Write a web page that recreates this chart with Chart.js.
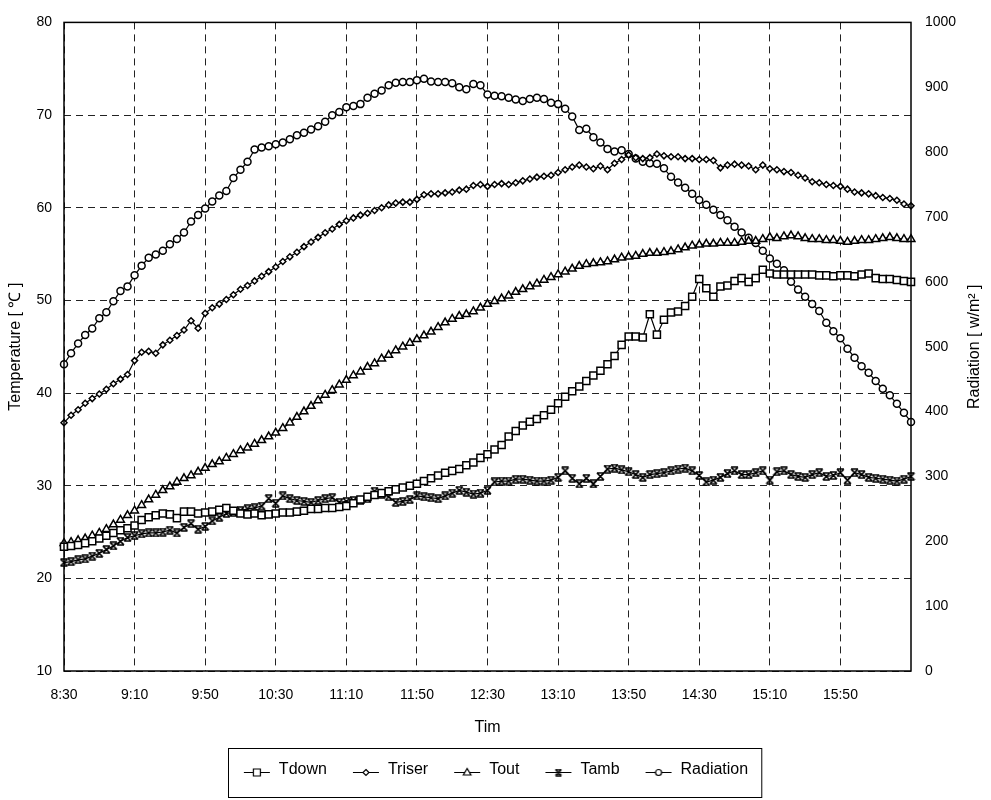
<!DOCTYPE html>
<html>
<head>
<meta charset="utf-8">
<title>Temperature and Radiation</title>
<script src="https://cdn.jsdelivr.net/npm/chart.js@4.4.0/dist/chart.umd.min.js"></script>
<style>
  html, body { margin: 0; padding: 0; background: #fff; }
  #chart { display: block; }
</style>
</head>
<body>
<canvas id="chart" width="991" height="800"></canvas>
<script>
// Samples every 4 minutes from 8:30 to 16:30
const sampleStep = 4;
const xTickLabels = ['8:30', '9:10', '9:50', '10:30', '11:10', '11:50', '12:30', '13:10', '13:50', '14:30', '15:10', '15:50'];

const tdown = [
    23.4, 23.5, 23.6, 23.8, 24.0, 24.3, 24.6, 24.9, 25.2, 25.4,
    25.7, 26.3, 26.6, 26.8, 27.0, 26.9, 26.5, 27.2, 27.2, 27.0,
    27.1, 27.2, 27.4, 27.6, 27.3, 27.0, 26.9, 27.0, 26.8, 26.9,
    27.0, 27.1, 27.1, 27.2, 27.3, 27.5, 27.5, 27.6, 27.6, 27.7,
    27.8, 28.1, 28.5, 28.8, 29.0, 29.2, 29.4, 29.6, 29.8, 30.0,
    30.2, 30.5, 30.8, 31.1, 31.4, 31.6, 31.8, 32.2, 32.5, 33.0,
    33.4, 33.9, 34.4, 35.3, 35.9, 36.5, 36.9, 37.2, 37.6, 38.2,
    38.9, 39.6, 40.2, 40.7, 41.3, 41.9, 42.4, 43.1, 44.0, 45.2,
    46.1, 46.1, 46.0, 48.5, 46.3, 47.9, 48.7, 48.8, 49.4, 50.4,
    52.3, 51.3, 50.4, 51.5, 51.6, 52.1, 52.4, 52.0, 52.4, 53.3,
    52.9, 52.8, 52.8, 52.8, 52.8, 52.8, 52.8, 52.7, 52.7, 52.6,
    52.7, 52.7, 52.6, 52.8, 52.9, 52.4, 52.3, 52.3, 52.2, 52.1,
    52.0
];

const triser = [
    36.8, 37.6, 38.2, 38.9, 39.4, 39.9, 40.4, 41.0, 41.5, 42.0,
    43.5, 44.4, 44.5, 44.3, 45.2, 45.7, 46.2, 46.8, 47.8, 47.0,
    48.6, 49.2, 49.6, 50.1, 50.6, 51.2, 51.6, 52.1, 52.6, 53.1,
    53.6, 54.2, 54.7, 55.2, 55.8, 56.3, 56.8, 57.3, 57.7, 58.2,
    58.6, 58.9, 59.2, 59.4, 59.7, 60.0, 60.3, 60.5, 60.6, 60.6,
    60.9, 61.4, 61.5, 61.5, 61.6, 61.7, 61.9, 62.0, 62.4, 62.5,
    62.3, 62.5, 62.6, 62.5, 62.7, 62.9, 63.1, 63.3, 63.4, 63.5,
    63.8, 64.1, 64.4, 64.6, 64.4, 64.2, 64.5, 64.1, 64.8, 65.2,
    65.7, 65.4, 65.3, 65.4, 65.8, 65.6, 65.5, 65.5, 65.3, 65.3,
    65.2, 65.2, 65.1, 64.3, 64.6, 64.7, 64.6, 64.5, 64.1, 64.6,
    64.2, 64.1, 63.9, 63.8, 63.5, 63.2, 62.8, 62.7, 62.5, 62.4,
    62.3, 62.0, 61.7, 61.6, 61.5, 61.3, 61.1, 61.0, 60.8, 60.4,
    60.2
];

const tout = [
    23.8, 23.9, 24.1, 24.3, 24.6, 24.9, 25.3, 25.8, 26.3, 26.8,
    27.3, 27.9, 28.5, 29.0, 29.5, 29.9, 30.4, 30.8, 31.1, 31.5,
    31.9, 32.3, 32.6, 33.0, 33.4, 33.8, 34.1, 34.5, 34.9, 35.3,
    35.7, 36.2, 36.8, 37.4, 38.0, 38.6, 39.2, 39.8, 40.3, 40.9,
    41.4, 41.9, 42.3, 42.8, 43.2, 43.7, 44.1, 44.6, 45.0, 45.4,
    45.8, 46.2, 46.6, 47.1, 47.6, 48.0, 48.3, 48.5, 48.8, 49.2,
    49.6, 49.9, 50.2, 50.5, 50.9, 51.2, 51.5, 51.8, 52.2, 52.5,
    52.8, 53.1, 53.4, 53.7, 53.9, 54.0, 54.1, 54.2, 54.4, 54.6,
    54.7, 54.8, 55.0, 55.1, 55.1, 55.2, 55.3, 55.5, 55.7, 55.9,
    56.0, 56.1, 56.1, 56.2, 56.2, 56.2, 56.3, 56.4, 56.4, 56.6,
    56.8, 56.7, 56.9, 57.0, 56.9, 56.7, 56.6, 56.6, 56.5, 56.5,
    56.4, 56.3, 56.4, 56.5, 56.5, 56.6, 56.7, 56.8, 56.7, 56.6,
    56.6
];

const tamb = [
    21.7, 21.8, 22.0, 22.1, 22.4, 22.7, 23.1, 23.5, 24.0, 24.4,
    24.6, 24.8, 24.9, 24.9, 25.0, 25.2, 24.9, 25.5, 25.9, 25.3,
    25.6, 26.2, 26.6, 27.0, 27.1, 27.3, 27.5, 27.6, 27.8, 28.6,
    28.1, 28.9, 28.6, 28.4, 28.3, 28.2, 28.4, 28.6, 28.7, 28.2,
    28.3, 28.4, 28.4, 28.6, 29.4, 29.1, 28.8, 28.2, 28.3, 28.5,
    28.9, 28.8, 28.7, 28.6, 28.9, 29.2, 29.5, 29.3, 29.1, 29.2,
    29.5, 30.4, 30.5, 30.5, 30.7, 30.7, 30.6, 30.5, 30.5, 30.6,
    30.9, 31.6, 30.8, 30.2, 30.8, 30.2, 31.0, 31.8, 31.9, 31.7,
    31.5, 31.2, 30.9, 31.2, 31.3, 31.4, 31.6, 31.8, 31.9, 31.6,
    31.1, 30.4, 30.6, 30.9, 31.3, 31.6, 31.2, 31.2, 31.4, 31.6,
    30.6, 31.5, 31.6, 31.2, 31.0, 30.9, 31.2, 31.4, 31.0, 31.1,
    31.4, 30.6, 31.4, 31.2, 30.9, 30.8, 30.7, 30.6, 30.5, 30.7,
    31.0
];

const radiation = [
    473, 490, 505, 518, 528, 544, 553, 570, 586, 593,
    610, 625, 637, 642, 648, 658, 666, 676, 693, 703,
    713, 724, 733, 740, 760, 773, 785, 804, 807, 809,
    812, 815, 820, 826, 830, 835, 840, 847, 857, 862,
    869, 871, 874, 884, 890, 895, 903, 907, 908, 908,
    911, 913, 909, 908, 908, 906, 900, 897, 905, 903,
    889, 887, 886, 884, 881, 879, 882, 884, 882, 876,
    874, 867, 855, 834, 836, 823, 815, 805, 801, 803,
    797, 790, 785, 783, 782, 775, 762, 753, 745, 736,
    726, 719, 711, 703, 695, 685, 676, 668, 660, 648,
    636, 628, 618, 600, 588, 577, 566, 555, 537, 524,
    513, 497, 483, 470, 460, 447, 435, 425, 412, 398,
    384
];

const fontFamily = '"Liberation Sans", Arial, Helvetica, sans-serif';
const rightTitle = 'Radiation [ w/m² ]';

// hourglass-like marker used for Tamb
function makeHourglass(size) {
    const c = document.createElement('canvas');
    c.width = size;
    c.height = size;
    const g = c.getContext('2d');
    g.strokeStyle = '#000';
    g.lineWidth = 1.6;
    g.beginPath();
    g.moveTo(1, 1); g.lineTo(size - 1, size - 1);
    g.moveTo(size - 1, 1); g.lineTo(1, size - 1);
    g.moveTo(1, 1); g.lineTo(size - 1, 1);
    g.moveTo(1, size - 1); g.lineTo(size - 1, size - 1);
    g.stroke();
    return c;
}
const hourglass = makeHourglass(9);

// legend icon: short line with the marker in the middle
function makeLegendIcon(kind) {
    const c = document.createElement('canvas');
    c.width = 28;
    c.height = 14;
    const g = c.getContext('2d');
    g.strokeStyle = '#000';
    g.fillStyle = '#fff';
    g.lineWidth = 1;
    g.beginPath();
    g.moveTo(1, 9.5); g.lineTo(27, 9.5);
    g.stroke();
    const cx = 14, cy = 9.5;
    g.lineWidth = 1.2;
    g.beginPath();
    if (kind === 'rect') {
        g.rect(cx - 3.5, cy - 3.5, 7, 7);
    } else if (kind === 'rectRot') {
        g.moveTo(cx, cy - 3); g.lineTo(cx + 3, cy); g.lineTo(cx, cy + 3); g.lineTo(cx - 3, cy); g.closePath();
    } else if (kind === 'triangle') {
        g.moveTo(cx, cy - 4); g.lineTo(cx + 3.8, cy + 2.5); g.lineTo(cx - 3.8, cy + 2.5); g.closePath();
    } else if (kind === 'circle') {
        g.arc(cx, cy, 3, 0, Math.PI * 2);
    }
    if (kind === 'hourglass') {
        g.drawImage(makeHourglass(8), cx - 4, cy - 4);
    } else {
        g.fill();
        g.stroke();
    }
    return c;
}

function toPoints(values) {
    return values.map((v, i) => ({ x: i * sampleStep, y: v }));
}

function series(label, values, style, radius, axis, legendKind) {
    return {
        label: label,
        data: toPoints(values),
        yAxisID: axis,
        borderColor: '#000',
        borderWidth: 1.2,
        pointStyle: style,
        pointRadius: radius,
        pointBorderWidth: 1.5,
        pointBorderColor: '#000',
        pointBackgroundColor: '#fff',
        tension: 0,
        clip: 6,
        legendIcon: makeLegendIcon(legendKind)
    };
}

const datasets = [
    series('Tdown', tdown, 'rect', 5, 'y', 'rect'),
    series('Triser', triser, 'rectRot', 3, 'y', 'rectRot'),
    series('Tout', tout, 'triangle', 4.5, 'y', 'triangle'),
    series('Tamb', tamb, hourglass, 4, 'y', 'hourglass'),
    series('Radiation', radiation, 'circle', 3.5, 'y1', 'circle')
];

// frame, right-hand title and legend box
const decorations = {
    id: 'decorations',
    afterDraw(chart) {
        const ctx = chart.ctx;
        const a = chart.chartArea;
        ctx.save();
        ctx.strokeStyle = '#000';
        ctx.lineWidth = 1.5;
        ctx.strokeRect(a.left, a.top, a.right - a.left, a.bottom - a.top);

        ctx.fillStyle = '#000';
        ctx.font = '16px ' + fontFamily;
        ctx.textAlign = 'center';
        ctx.textBaseline = 'middle';
        ctx.save();
        ctx.translate(975, (a.top + a.bottom) / 2);
        ctx.rotate(-Math.PI / 2);
        ctx.fillText(rightTitle, 0, 0);
        ctx.restore();

        const boxes = chart.legend.legendHitBoxes;
        if (boxes && boxes.length) {
            const minX = Math.min(...boxes.map(b => b.left));
            const maxX = Math.max(...boxes.map(b => b.left + b.width));
            const top = boxes[0].top;
            ctx.lineWidth = 1;
            ctx.strokeRect(Math.round(minX - 15) + 0.5, Math.round(top - 14) + 0.5, maxX - minX + 28, 49);
        }
        ctx.restore();
    }
};

new Chart(document.getElementById('chart'), {
    type: 'line',
    data: { datasets: datasets },
    plugins: [decorations],
    options: {
        responsive: false,
        animation: false,
        devicePixelRatio: 1,
        layout: { padding: { top: 20, left: 0, right: 0, bottom: 12 } },
        plugins: {
            tooltip: { enabled: false },
            legend: {
                position: 'bottom',
                labels: {
                    usePointStyle: true,
                    pointStyleWidth: 28,
                    padding: 25,
                    color: '#000',
                    font: { family: fontFamily, size: 16 },
                    generateLabels(chart) {
                        return chart.data.datasets.map((ds, i) => ({
                            text: ds.label,
                            pointStyle: ds.legendIcon,
                            fillStyle: '#fff',
                            strokeStyle: '#000',
                            lineWidth: 0,
                            hidden: false,
                            datasetIndex: i,
                            fontColor: '#000'
                        }));
                    }
                }
            }
        },
        scales: {
            x: {
                type: 'linear',
                min: 0,
                max: 480,
                ticks: {
                    stepSize: 40,
                    autoSkip: false,
                    maxRotation: 0,
                    padding: 16,
                    color: '#000',
                    font: { family: fontFamily, size: 14 },
                    callback: v => xTickLabels[v / 40] ?? null
                },
                grid: { color: '#222', lineWidth: 1, drawTicks: false },
                border: { display: false, dash: [7, 5] },
                title: {
                    display: true,
                    text: 'Tim',
                    color: '#000',
                    font: { family: fontFamily, size: 16 },
                    padding: { top: 0, bottom: 0 }
                },
                afterFit(scale) { scale.height = 66; }
            },
            y: {
                position: 'left',
                min: 10,
                max: 80,
                ticks: {
                    stepSize: 10,
                    padding: 12,
                    color: '#000',
                    font: { family: fontFamily, size: 14 },
                    callback: v => String(v)
                },
                grid: { color: '#222', lineWidth: 1, drawTicks: false },
                border: { display: false, dash: [7, 5] },
                title: {
                    display: true,
                    text: 'Temperature [ ℃ ]',
                    color: '#000',
                    font: { family: fontFamily, size: 16 },
                    padding: { top: 6, bottom: 0 }
                },
                afterFit(scale) { scale.width = 64; }
            },
            y1: {
                position: 'right',
                min: 0,
                max: 1000,
                ticks: {
                    stepSize: 100,
                    padding: 14,
                    color: '#000',
                    font: { family: fontFamily, size: 14 },
                    callback: v => String(v)
                },
                grid: { display: false, drawTicks: false },
                border: { display: false },
                afterFit(scale) { scale.width = 80; }
            }
        }
    }
});
</script>
</body>
</html>
